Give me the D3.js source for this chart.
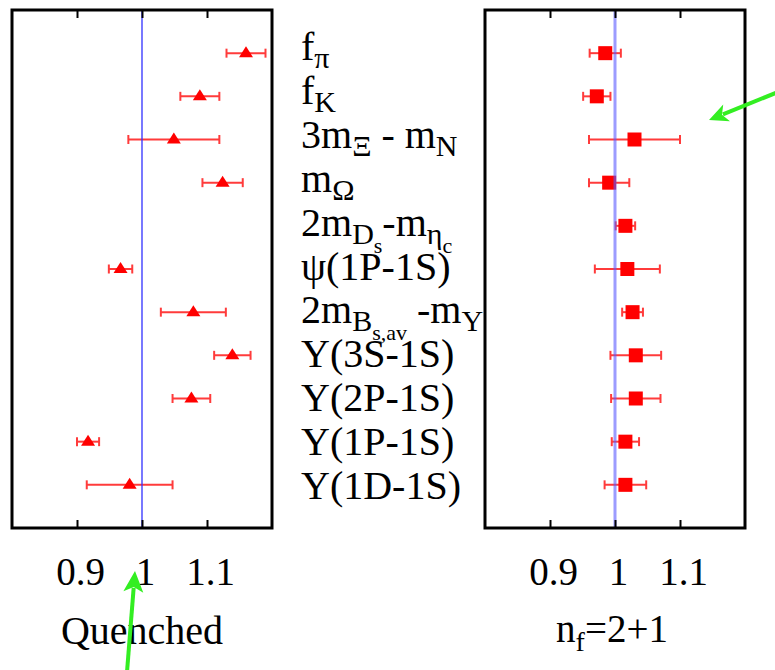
<!DOCTYPE html>
<html>
<head>
<meta charset="utf-8">
<script src="https://cdn.jsdelivr.net/npm/d3@7"></script>
<style>
body { margin: 0; background: #fff; }
svg { display: block; }
</style>
</head>
<body>
<script>
// row labels, [text, level] pieces: 0 normal, 1 subscript, 2 sub-subscript
const labels = [
	[["f", 0], ["π", 1]],
	[["f", 0], ["K", 1]],
	[["3m", 0], ["Ξ", 1], [" - m", 0], ["N", 1]],
	[["m", 0], ["Ω", 1]],
	[["2m", 0], ["D", 1], ["s", 2], ["-m", 0], ["η", 1], ["c", 2]],
	[["ψ(1P-1S)", 0]],
	[["2m", 0], ["B", 1], ["s,av", 2], [" -m", 0], ["Υ", 1]],
	[["Υ(3S-1S)", 0]],
	[["Υ(2P-1S)", 0]],
	[["Υ(1P-1S)", 0]],
	[["Υ(1D-1S)", 0]]
];
const quenchedVal = [1.160, 1.089, 1.049, 1.124, null, 0.967, 1.079, 1.139, 1.076, 0.917, 0.981];
const quenchedErr = [0.030, 0.030, 0.070, 0.031, null, 0.018, 0.050, 0.028, 0.029, 0.017, 0.066];
const dynVal = [0.985, 0.972, 1.030, 0.991, 1.016, 1.019, 1.027, 1.032, 1.032, 1.016, 1.016];
const dynErr = [0.024, 0.021, 0.070, 0.031, 0.015, 0.050, 0.016, 0.039, 0.038, 0.021, 0.032];
const tickVals = [0.9, 1, 1.1];
const tickLabels = ["0.9", "1", "1.1"];

const W = 775, H = 670;
const yTop = 10, yBot = 528;
const font = "'Liberation Serif', 'Times New Roman', serif";

const svg = d3.select("body").append("svg")
	.attr("width", W)
	.attr("height", H);
svg.append("rect").attr("width", W).attr("height", H).attr("fill", "#fff");

const rows = d3.range(labels.length);
const y = d3.scalePoint().domain(rows).range([yTop, yBot]).padding(1);
const yLab = d3.scalePoint().domain(rows).range([60, 499]);

function panel(x0, x1, vals, errs, marker, lineColor, lineWidth) {
	const x = d3.scaleLinear().domain([0.8, 1.2]).range([x0, x1]);
	const g = svg.append("g");
	const pts = rows.filter(i => vals[i] != null);

	// error bars
	const eb = g.append("g")
		.attr("stroke", "#ff3b3b")
		.attr("stroke-width", 2);
	eb.selectAll(".bar").data(pts).enter().append("line")
		.attr("x1", i => x(vals[i] - errs[i]))
		.attr("x2", i => x(vals[i] + errs[i]))
		.attr("y1", i => y(i))
		.attr("y2", i => y(i));
	eb.selectAll(".capl").data(pts).enter().append("line")
		.attr("x1", i => x(vals[i] - errs[i]))
		.attr("x2", i => x(vals[i] - errs[i]))
		.attr("y1", i => y(i) - 4.5)
		.attr("y2", i => y(i) + 4.5);
	eb.selectAll(".capr").data(pts).enter().append("line")
		.attr("x1", i => x(vals[i] + errs[i]))
		.attr("x2", i => x(vals[i] + errs[i]))
		.attr("y1", i => y(i) - 4.5)
		.attr("y2", i => y(i) + 4.5);

	// markers
	if (marker == "triangle") {
		g.selectAll(".mk").data(pts).enter().append("path")
			.attr("fill", "#ff0000")
			.attr("d", i => {
				const cx = x(vals[i]), cy = y(i);
				return `M${cx},${cy - 7}L${cx + 7},${cy + 4}L${cx - 7},${cy + 4}Z`;
			});
	} else {
		g.selectAll(".mk").data(pts).enter().append("rect")
			.attr("fill", "#ff0000")
			.attr("x", i => x(vals[i]) - 7)
			.attr("y", i => y(i) - 7)
			.attr("width", 14)
			.attr("height", 14);
	}

	// reference line at 1
	g.append("line")
		.attr("x1", x(1)).attr("x2", x(1))
		.attr("y1", yTop).attr("y2", yBot)
		.attr("stroke", lineColor)
		.attr("stroke-width", lineWidth);

	// ticks
	g.append("g")
		.attr("transform", `translate(0,${yTop})`)
		.call(d3.axisTop(x).tickValues(tickVals).tickSize(-8).tickFormat(""))
		.call(a => a.select(".domain").remove())
		.call(a => a.selectAll("line").attr("stroke", "#000").attr("stroke-width", 2));
	g.append("g")
		.attr("transform", `translate(0,${yBot})`)
		.call(d3.axisBottom(x).tickValues(tickVals).tickSize(-8).tickPadding(29)
			.tickFormat((d, i) => tickLabels[i]))
		.call(a => a.select(".domain").remove())
		.call(a => a.selectAll("line").attr("stroke", "#000").attr("stroke-width", 2))
		.call(a => a.attr("font-family", null))
		.call(a => a.selectAll("text")
			.attr("fill", "#000")
			.attr("dx", 3)
			.style("font-family", font)
			.style("font-size", "39px"));

	g.append("rect")
		.attr("x", x0).attr("y", yTop)
		.attr("width", x1 - x0).attr("height", yBot - yTop)
		.attr("fill", "none")
		.attr("stroke", "#000")
		.attr("stroke-width", 3);
	return x;
}

const xL = panel(12, 272, quenchedVal, quenchedErr, "triangle", "#3030ff", 1.3);
const xR = panel(485, 745, dynVal, dynErr, "square", "rgba(90,90,255,0.6)", 3);

// row labels
const sizes = [40, 30, 22], shift = [0, 8, 17];
svg.append("g").selectAll("text").data(rows).enter().append("text")
	.attr("x", 301)
	.attr("y", i => yLab(i))
	.style("font-family", font)
	.style("font-size", "40px")
	.each(function (i) {
		let lev = 0;
		const t = d3.select(this);
		labels[i].forEach(p => {
			t.append("tspan")
				.attr("dy", shift[p[1]] - shift[lev])
				.style("font-size", sizes[p[1]] + "px")
				.style("white-space", "pre")
				.text(p[0]);
			lev = p[1];
		});
	});

// panel titles
svg.append("text")
	.attr("x", xL(1)).attr("y", 644)
	.attr("text-anchor", "middle")
	.style("font-family", font).style("font-size", "40px")
	.text("Quenched");
const nf = svg.append("text")
	.attr("x", xR(1) - 3).attr("y", 642)
	.attr("text-anchor", "middle")
	.style("font-family", font).style("font-size", "39px");
nf.append("tspan").text("n");
nf.append("tspan").attr("dy", 9).style("font-size", "28px").text("f");
nf.append("tspan").attr("dy", -9).text("=2+1");

// green annotation arrows
function arrow(x1, y1, x2, y2, len, half) {
	const a = Math.atan2(y2 - y1, x2 - x1);
	const ux = Math.cos(a), uy = Math.sin(a), px = -uy, py = ux;
	const bx = x2 - ux * len, by = y2 - uy * len;
	svg.append("line")
		.attr("x1", x1).attr("y1", y1)
		.attr("x2", bx + ux * 4).attr("y2", by + uy * 4)
		.attr("stroke", "#33ee22")
		.attr("stroke-width", 4);
	svg.append("path")
		.attr("fill", "#33ee22")
		.attr("d", `M${x2},${y2}L${bx + px * half},${by + py * half}` +
			`L${bx + ux * 5},${by + uy * 5}L${bx - px * half},${by - py * half}Z`);
}
arrow(127, 672, 135, 571, 21, 10);
arrow(778, 92, 709, 120, 19, 9);
</script>
</body>
</html>
